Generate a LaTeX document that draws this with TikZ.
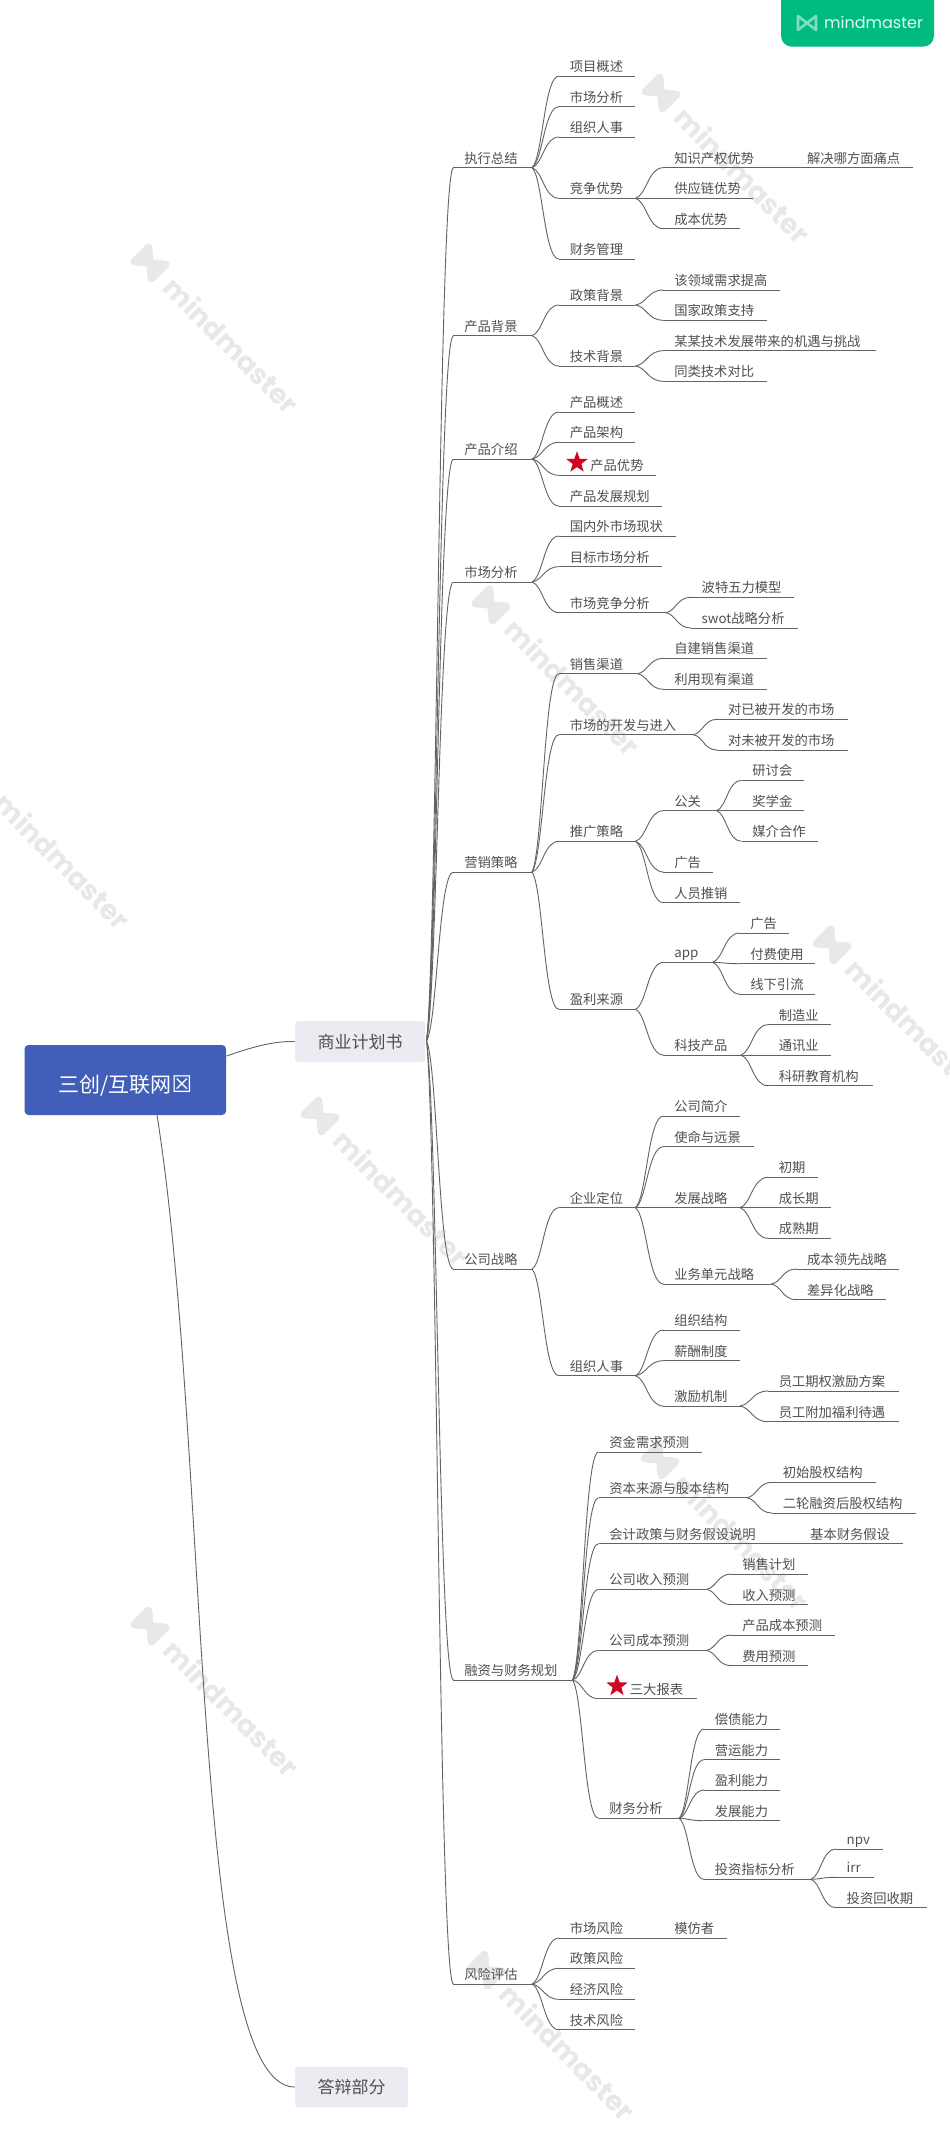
\documentclass[tikz,border=0pt]{standalone}
\usepackage{fontspec}
\usetikzlibrary{calc,shapes.geometric}
\setmainfont{Noto Sans CJK SC}
\newfontfamily\wmfont{Poppins}
\newfontfamily\djv{DejaVu Sans}
\definecolor{txt}{HTML}{505050}
\definecolor{lne}{HTML}{636363}
\definecolor{rootc}{HTML}{415FB8}
\definecolor{l1c}{HTML}{EBEBF2}
\definecolor{badge}{HTML}{00BB80}
\definecolor{wmc}{HTML}{E8E8E8}
\definecolor{starc}{HTML}{D0061F}
\tikzset{
 tp/.style={anchor=south west,inner xsep=10.7pt,inner ysep=4.5pt,text height=10pt,text depth=0pt,text=txt,font=\fontsize{13.3}{16}\selectfont,align=left},
 ul/.style={draw=lne,line width=0.95pt},
 cnl/.style={draw=lne,line width=0.9pt,line join=round},
 l1box/.style={fill=l1c,rounded corners=3pt,inner sep=0pt,text=txt,font=\fontsize{17}{20}\selectfont},
 rootbox/.style={fill=rootc,rounded corners=4pt,inner sep=0pt,text=white,font=\fontsize{21}{24}\selectfont},
 starmark/.style={star,star points=5,star point ratio=2.45,fill=starc,inner sep=0pt,minimum size=22.5pt},
}
\newcommand{\tpc}[5]{%
 \pgfmathsetmacro\xa{420+(#2-420)*1.0142}%
 \pgfmathsetmacro\xb{420+(#3-420)*1.0142}%
 \pgfmathsetmacro\wid{\xb-\xa-2*10.7}%
 \node[tp,text width=\wid pt] (#1) at (\xa,#4) {\mbox{#5}};
 \draw[ul] (#1.south west) -- (#1.south east);}
\newcommand{\cnraw}[2]{%
 \draw[cnl] let \p1=(#1),\p2=(#2),\n1={\x2-\x1},\n2={\y2-\y1} in
  (\p1) .. controls (\x1+0.4*\n1,\y1+0.1*\n2) and (\x1+0.45*\n1,\y2) .. (\p2);}
\newcommand{\cnc}[2]{\foreach \kid in {#2}{\cnraw{#1.south east}{\kid.south west}}}
\newcommand{\wm}[2]{%
 \begin{scope}[shift={(#1,#2)},rotate=-45,transform shape]
  \draw[wmc,fill=wmc,line width=7.5pt,line join=round,line cap=round] (-12,-10)--(-12,10)--(12,-10)--(12,10)--cycle;
  \node[anchor=west,inner sep=0pt,text=wmc,font=\wmfont\bfseries\fontsize{27.5}{30}\selectfont] (wm#1) at (27,0) {mindmaster};
 \end{scope}}
\begin{document}
\begin{tikzpicture}[x=1pt,y=-1pt]
\useasboundingbox (0,0) rectangle (950,2144);
\fill[white] (0,0) rectangle (950,2144);
% watermarks
\wm{150}{263}\wm{661}{93}\wm{-19}{779}\wm{491}{605}\wm{832}{945}\wm{320}{1116}\wm{660}{1460}\wm{150}{1626}\wm{486}{1970}
% badge
\fill[badge,rounded corners=11pt] (781,-20) rectangle (934,46.7);
\draw[white!50!badge,line width=2.6pt,line join=round] (798,16)--(798,30)--(816,16)--(816,30)--cycle;
\node[anchor=west,inner sep=0pt,text=white!88!badge,font=\wmfont\fontsize{16}{18}\selectfont] (badgetext) at (824,22.5) {mindmaster};
% root and level 1
\node[rootbox,minimum width=201.5pt,minimum height=70pt] (root) at (125.25,1080) {\raisebox{-12pt}[0pt][0pt]{三创/互联网{\djv\fontsize{23}{24}\selectfont ☒}}\hspace{8pt}};
\node[l1box,minimum width=130pt,minimum height=41pt] (bp) at (360,1041.5) {商业计划书};
\node[l1box,minimum width=113pt,minimum height=40.5pt] (df) at (351.5,2087) {答辩部分};
\coordinate (rootr) at (226.5,1056);
\coordinate (roots) at (157,1115);
\coordinate (bpout) at (426.5,1041);
\draw[cnl] (rootr) .. controls (255,1046) and (275,1041) .. (bp.west);
\draw[cnl] (roots) .. controls (210,1450) and (190,2087) .. (df.west);
% section 1
\tpc{sa}{453}{530}{167.7}{执行总结}
\tpc{a1}{557}{632}{76}{项目概述}
\tpc{a2}{557}{632}{106.7}{市场分析}
\tpc{a3}{557}{632}{137}{组织人事}
\tpc{a4}{557}{632}{198.3}{竞争优势}
\tpc{a5}{557}{632}{259}{财务管理}
\tpc{a41}{660}{762}{167.7}{知识产权优势}
\tpc{a411}{791}{906}{167.7}{解决哪方面痛点}
\tpc{a42}{660}{748}{198.3}{供应链优势}
\tpc{a43}{660}{735}{228.7}{成本优势}
\cnc{sa}{a1,a2,a3,a4,a5}\cnc{a4}{a41,a42,a43}\cnc{a41}{a411}
% section 2
\tpc{sb}{453}{530}{335.7}{产品背景}
\tpc{b1}{557}{632}{305}{政策背景}
\tpc{b2}{557}{632}{366}{技术背景}
\tpc{b11}{660}{775}{290}{该领域需求提高}
\tpc{b12}{660}{762}{320.3}{国家政策支持}
\tpc{b21}{660}{869}{350.7}{某某技术发展带来的机遇与挑战}
\tpc{b22}{660}{762}{381.3}{同类技术对比}
\cnc{sb}{b1,b2}\cnc{b1}{b11,b12}\cnc{b2}{b21,b22}
% section 3
\tpc{sc}{453}{530}{459}{产品介绍}
\tpc{c1}{557}{632}{412}{产品概述}
\tpc{c2}{557}{632}{442.3}{产品架构}
\tpc{c3}{557}{652}{475.3}{\hspace*{20.5pt}产品优势}
\tpc{c4}{557}{658}{506}{产品发展规划}
\node[starmark] (starc1) at (577,462.5) {};
\cnc{sc}{c1,c2,c3,c4}
% section 4
\tpc{sd}{453}{530}{582}{市场分析}
\tpc{d1}{557}{672}{536}{国内外市场现状}
\tpc{d2}{557}{658}{566.7}{目标市场分析}
\tpc{d3}{557}{662}{612.7}{市场竞争分析}
\tpc{d31}{687}{788}{597.3}{波特五力模型}
\tpc{d32}{687}{792}{628}{swot战略分析}
\cnc{sd}{d1,d2,d3}\cnc{d3}{d31,d32}
% section 5
\tpc{se}{453}{530}{872}{营销策略}
\tpc{e1}{557}{634}{673.7}{销售渠道}
\tpc{e11}{660}{762}{658.3}{自建销售渠道}
\tpc{e12}{660}{762}{689.3}{利用现有渠道}
\tpc{e2}{557}{689}{734.7}{市场的开发与进入}
\tpc{e21}{713}{842}{719.3}{对已被开发的市场}
\tpc{e22}{713}{842}{750}{对未被开发的市场}
\tpc{e3}{557}{632}{841.3}{推广策略}
\tpc{e31}{660}{712}{810.7}{公关}
\tpc{e311}{737}{798}{780.3}{研讨会}
\tpc{e312}{737}{798}{810.7}{奖学金}
\tpc{e313}{737}{812}{841.3}{媒介合作}
\tpc{e32}{660}{708}{872}{广告}
\tpc{e33}{660}{735}{902.7}{人员推销}
\tpc{e4}{557}{632}{1009.3}{盈利来源}
\tpc{e41}{660}{708}{962.3}{app}
\tpc{e411}{735}{783}{933}{广告}
\tpc{e412}{735}{809}{963.7}{付费使用}
\tpc{e413}{735}{809}{994}{线下引流}
\tpc{e42}{660}{736}{1055}{科技产品}
\tpc{e421}{763}{825}{1024.7}{制造业}
\tpc{e422}{763}{825}{1055}{通讯业}
\tpc{e423}{763}{866}{1085.7}{科研教育机构}
\cnc{se}{e1,e2,e3,e4}\cnc{e1}{e11,e12}\cnc{e2}{e21,e22}\cnc{e3}{e31,e32,e33}\cnc{e31}{e311,e312,e313}
\cnc{e4}{e41,e42}\cnc{e41}{e411,e412,e413}\cnc{e42}{e421,e422,e423}
% section 6
\tpc{sf}{453}{530}{1269}{公司战略}
\tpc{f1}{557}{632}{1207.7}{企业定位}
\tpc{f11}{660}{735}{1116}{公司简介}
\tpc{f12}{660}{749}{1146.7}{使命与远景}
\tpc{f13}{660}{735}{1207.7}{发展战略}
\tpc{f131}{763}{812}{1177.3}{初期}
\tpc{f132}{763}{825}{1207.7}{成长期}
\tpc{f133}{763}{825}{1238.3}{成熟期}
\tpc{f14}{660}{766}{1284}{业务单元战略}
\tpc{f141}{791}{892}{1269}{成本领先战略}
\tpc{f142}{791}{879}{1299.7}{差异化战略}
\tpc{f2}{557}{632}{1375.7}{组织人事}
\tpc{f21}{660}{735}{1330}{组织结构}
\tpc{f22}{660}{735}{1360.7}{薪酬制度}
\tpc{f23}{660}{735}{1406}{激励机制}
\tpc{f231}{763}{892}{1391}{员工期权激励方案}
\tpc{f232}{763}{892}{1421.7}{员工附加福利待遇}
\cnc{sf}{f1,f2}\cnc{f1}{f11,f12,f13,f14}\cnc{f13}{f131,f132,f133}\cnc{f14}{f141,f142}\cnc{f2}{f21,f22,f23}\cnc{f23}{f231,f232}
% section 7
\tpc{sg}{453}{570}{1680}{融资与财务规划}
\tpc{g1}{596}{698}{1452}{资金需求预测}
\tpc{g2}{596}{742}{1497.7}{资本来源与股本结构}
\tpc{g21}{767}{869}{1482.3}{初始股权结构}
\tpc{g22}{767}{909}{1513}{二轮融资后股权结构}
\tpc{g3}{596}{765}{1543.7}{会计政策与财务假设说明}
\tpc{g31}{794}{896}{1543.7}{基本财务假设}
\tpc{g4}{596}{702}{1589.3}{公司收入预测}
\tpc{g41}{727}{802}{1574}{销售计划}
\tpc{g42}{727}{802}{1604.7}{收入预测}
\tpc{g5}{596}{702}{1650.3}{公司成本预测}
\tpc{g51}{727}{829}{1635}{产品成本预测}
\tpc{g52}{727}{802}{1665.7}{费用预测}
\tpc{g6}{596}{693}{1698.7}{\hspace*{20.5pt}三大报表}
\node[starmark] (starg) at (617,1686) {};
\tpc{g7}{596}{675}{1818.3}{财务分析}
\tpc{g71}{700}{775}{1729}{偿债能力}
\tpc{g72}{700}{775}{1759.7}{营运能力}
\tpc{g73}{700}{775}{1790}{盈利能力}
\tpc{g74}{700}{775}{1820.7}{发展能力}
\tpc{g75}{700}{805}{1879.3}{投资指标分析}
\tpc{g751}{830}{876}{1849}{npv}
\tpc{g752}{830}{867}{1877.3}{irr}
\tpc{g753}{830}{919}{1907.7}{投资回收期}
\cnc{sg}{g1,g2,g3,g4,g5,g6,g7}\cnc{g2}{g21,g22}\cnc{g3}{g31}\cnc{g4}{g41,g42}\cnc{g5}{g51,g52}\cnc{g7}{g71,g72,g73,g74,g75}\cnc{g75}{g751,g752,g753}
% section 8
\tpc{sh}{453}{530}{1984}{风险评估}
\tpc{h1}{557}{632}{1938}{市场风险}
\tpc{h11}{660}{722}{1938}{模仿者}
\tpc{h2}{557}{632}{1968.3}{政策风险}
\tpc{h3}{557}{632}{1999.3}{经济风险}
\tpc{h4}{557}{632}{2029.7}{技术风险}
\cnc{sh}{h1,h2,h3,h4}\cnc{h1}{h11}
% trunk
\foreach \kid in {sa,sb,sc,sd,se,sf,sg,sh}{\cnraw{bpout}{\kid.south west}}
\end{tikzpicture}
\end{document}
